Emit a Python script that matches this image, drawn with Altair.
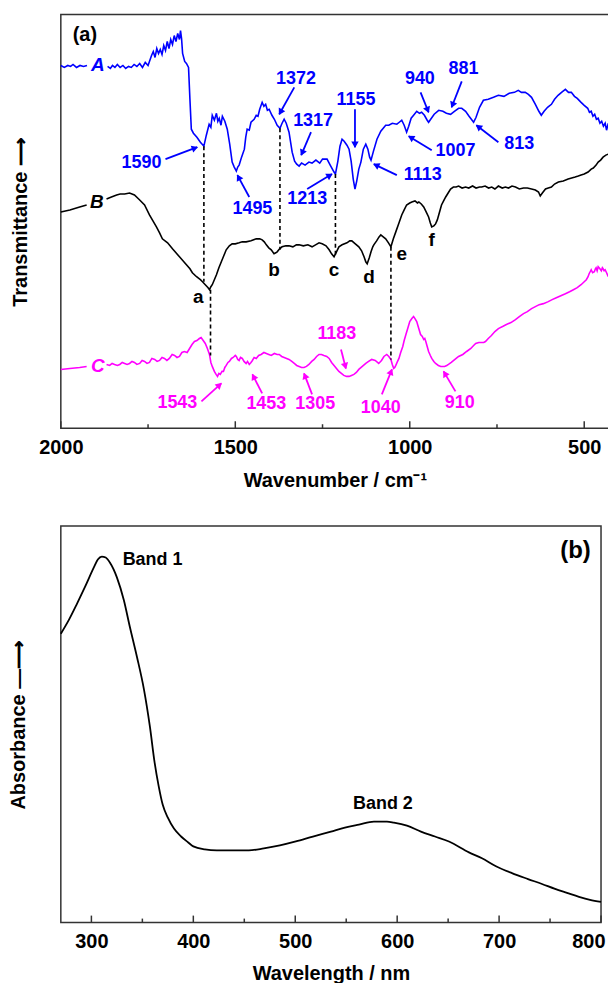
import math
import altair as alt
import pandas as pd

FONT = "Liberation Sans"
BLUE = "#0000ff"
MAG = "#ff00ff"
BLACK = "#000000"

# ---------------- Panel (a): FTIR spectra (transmittance, arbitrary offset units) -------------
A1_wn = [2000, 1990, 1980, 1972, 1965, 1955, 1945, 1935, 1925]
A1_t = [364, 362, 364, 363, 365, 362, 364, 363, 364]
A2_wn = [1866, 1858, 1852, 1845, 1838, 1830, 1822, 1814, 1806, 1798, 1790, 1782, 1774, 1766, 1758, 1750,
         1745, 1740, 1735, 1730, 1725, 1720, 1715, 1710, 1705, 1700, 1695, 1690, 1685, 1680, 1675, 1670,
         1665, 1660, 1657, 1654, 1651, 1645, 1640, 1634, 1630, 1626, 1620, 1610, 1600, 1590, 1583, 1575,
         1570, 1566, 1560, 1554, 1550, 1546, 1541, 1537, 1530, 1523, 1516, 1509, 1503, 1497, 1493, 1489,
         1482, 1474, 1470, 1466, 1460, 1455, 1446, 1440, 1435, 1430, 1423, 1418, 1413, 1408, 1403, 1395,
         1388, 1380, 1372, 1366, 1360, 1354, 1346, 1337, 1330, 1324, 1317, 1310, 1300, 1289, 1280, 1269,
         1258, 1250, 1237, 1228, 1217, 1213, 1206, 1200, 1194, 1188, 1180, 1174, 1168, 1162, 1157, 1152,
         1146, 1140, 1133, 1126, 1120, 1115, 1111, 1104, 1094, 1083, 1069, 1060, 1050, 1037, 1030, 1023,
         1016, 1009, 1003, 996, 989, 980, 972, 966, 958, 950, 946, 940, 930, 917, 905, 895, 883, 872, 860,
         851, 840, 830, 817, 810, 800, 789, 775, 760, 746, 730, 715, 700, 689, 680, 669, 660, 651, 640,
         630, 623, 615, 605, 594, 585, 575, 565, 554, 545, 537, 528, 520, 509, 500, 490, 485, 480, 475,
         470, 465, 460, 455, 450, 445, 440, 436, 431]
A2_t = [363, 361, 364, 362, 365, 362, 364, 361, 363, 362, 365, 363, 366, 362, 367, 364,
        369, 374, 378, 372, 381, 376, 380, 375, 384, 379, 388, 381, 390, 385, 394, 388,
        396, 390, 399, 391, 376, 368, 366, 362, 330, 300, 296, 292, 287, 283, 294, 305,
        302, 314, 309, 316, 308, 311, 304, 313, 308, 300, 285, 267, 262, 258, 262, 264,
        272, 280, 292, 300, 299, 307, 310, 314, 313, 320, 327, 323, 325, 319, 320, 314,
        310, 304, 301, 306, 310, 306, 297, 277, 268, 265, 263, 266, 264, 267, 266, 269,
        266, 270, 270, 264, 257, 255, 268, 283, 290, 288, 284, 280, 268, 250, 240, 248,
        260, 267, 280, 285, 280, 272, 269, 278, 290, 298, 304, 304, 306, 305, 307, 309,
        304, 297, 303, 311, 314, 318, 316, 317, 314, 309, 307, 310, 315, 319, 318, 316, 315, 318, 321,
        321, 318, 313, 307, 312, 322, 329, 330, 332, 334, 333, 336, 337, 339, 337, 337, 335, 332, 325,
        318, 314, 318, 322, 325, 330, 334, 337, 340, 337, 337, 333, 331, 327, 324, 321, 317, 318, 313,
        315, 310, 311, 306, 308, 303, 306, 299, 306]

B1_wn = [2000, 1974, 1946, 1926]
B1_t = [217, 219, 222, 224]
B2_wn = [1869, 1855, 1840, 1830, 1817, 1803, 1789, 1774, 1760, 1746, 1736, 1726, 1717, 1709, 1694, 1680,
         1670, 1660, 1650, 1640, 1630, 1623, 1611, 1600, 1594, 1586, 1578, 1574, 1570, 1566, 1560, 1554,
         1547, 1540, 1533, 1526, 1517, 1509, 1500, 1489, 1480, 1469, 1455, 1440, 1430, 1423, 1417, 1411,
         1404, 1397, 1389, 1384, 1380, 1373, 1366, 1355, 1346, 1335, 1325, 1317, 1305, 1292, 1280, 1270,
         1260, 1251, 1240, 1231, 1224, 1217, 1210, 1203, 1194, 1180, 1172, 1166, 1156, 1146, 1138, 1131,
         1126, 1122, 1116, 1111, 1106, 1103, 1095, 1088, 1083, 1076, 1069, 1061, 1054, 1047, 1040, 1032,
         1023, 1016, 1009, 1000, 994, 985, 978, 974, 967, 960, 953, 946, 941, 937, 931, 926, 921, 917,
         913, 909, 903, 897, 890, 883, 875, 867, 860, 850, 840, 831, 820, 810, 800, 794, 784, 774, 765,
         756, 746, 735, 726, 717, 707, 697, 686, 674, 663, 651, 640, 631, 626, 620, 611, 603, 594, 585,
         574, 560, 546, 536, 526, 517, 509, 500, 489, 480, 474, 466, 460, 453, 446, 438, 431]
B2_t = [230, 232, 234, 235, 235, 236, 234, 229, 224, 214, 208, 202, 196, 190, 186, 180,
        176, 172, 168, 164, 160, 156, 152, 149, 147, 144, 141, 139, 142, 144, 149, 154,
        161, 167, 173, 179, 183, 185, 185, 186, 187, 187, 188, 190, 190, 189, 187, 184,
        181, 179, 175, 176, 177, 180, 182, 183, 183, 182, 184, 184, 183, 184, 182, 184,
        186, 185, 183, 179, 175, 172, 177, 182, 184, 186, 188, 188, 185, 182, 178, 172,
        167, 165, 171, 177, 182, 184, 188, 192, 194, 192, 190, 186, 182, 190, 197, 205,
        214, 219, 224, 226, 227, 228, 226, 227, 225, 222, 217, 212, 206, 202, 203, 205, 209, 214,
        219, 224, 228, 232, 236, 240, 242, 242, 243, 241, 242, 241, 243, 241, 242, 242, 243, 241, 242,
        240, 243, 241, 242, 241, 243, 242, 240, 241, 241, 240, 239, 237, 233, 236, 240, 241, 242, 245,
        247, 248, 250, 251, 252, 253, 254, 255, 257, 260, 261, 264, 267, 269, 272, 274, 275]

C1_wn = [2000, 1974, 1946, 1926]
C1_t = [59, 60, 61, 62]
C2_wn = [1869, 1860, 1853, 1846, 1838, 1831, 1824, 1817, 1810, 1803, 1796, 1789, 1782, 1774, 1767, 1760,
         1753, 1746, 1739, 1731, 1724, 1717, 1710, 1703, 1696, 1689, 1681, 1674, 1667, 1660, 1653, 1646,
         1638, 1631, 1624, 1617, 1610, 1603, 1598, 1594, 1586, 1580, 1574, 1570, 1566, 1560, 1555, 1551,
         1547, 1543, 1538, 1534, 1530, 1526, 1521, 1517, 1511, 1506, 1500, 1497, 1493, 1489, 1485, 1480,
         1475, 1469, 1465, 1460, 1455, 1451, 1446, 1440, 1433, 1426, 1418, 1411, 1404, 1397, 1388, 1380,
         1374, 1367, 1360, 1353, 1346, 1338, 1331, 1324, 1317, 1310, 1303, 1296, 1289, 1281, 1274, 1267,
         1260, 1253, 1246, 1238, 1231, 1224, 1217, 1210, 1203, 1196, 1189, 1181, 1174, 1167, 1160, 1153,
         1146, 1136, 1126, 1118, 1109, 1099, 1089, 1081, 1074, 1066, 1060, 1054, 1050, 1046, 1043, 1040,
         1035, 1031, 1026, 1020, 1016, 1011, 1005, 1000, 994, 989, 985, 980, 975, 969, 964, 960, 957,
         954, 950, 946, 941, 937, 931, 926, 918, 911, 905, 900, 894, 889, 881, 874, 867, 860, 848, 837,
         825, 817, 811, 802, 794, 788, 783, 775, 766, 756, 746, 734, 723, 710, 697, 686, 674, 663, 651,
         640, 629, 617, 603, 592, 580, 567, 554, 542, 531, 520, 509, 500, 494, 489, 486, 483, 480, 476,
         471, 468, 466, 463, 460, 455, 451, 448, 446, 443, 440, 436, 431]
C2_t = [64, 63, 65, 64, 63, 64, 66, 65, 64, 65, 67, 66, 64, 65, 68, 67,
        65, 66, 70, 69, 67, 68, 71, 70, 68, 70, 74, 73, 71, 72, 76, 77,
        76, 80, 84, 87, 88, 90, 91, 89, 85, 80, 74, 66, 62, 57, 54, 52,
        55, 54, 57, 57, 61, 63, 66, 67, 70, 71, 73, 72, 69, 68, 71, 70,
        67, 65, 67, 64, 66, 68, 71, 70, 73, 74, 76, 75, 74, 73, 75, 74,
        74, 72, 71, 70, 69, 67, 65, 63, 62, 61, 61, 62, 64, 67, 69, 72,
        74, 74, 73, 72, 70, 66, 63, 60, 57, 55, 53, 52, 52, 53, 54, 56,
        59, 62, 65, 67, 69, 68, 65, 68, 72, 74, 72, 69, 64, 60, 61, 63,
        67, 70, 76, 82, 88, 94, 101, 107, 110, 112, 110, 107, 101, 94, 92, 89, 90,
        87, 82, 77, 73, 70, 67, 65, 63, 62, 62, 62, 63, 64, 66, 68, 70, 72, 74, 77,
        80, 83, 85, 86, 86, 86, 87, 90, 93, 97, 100, 102, 104, 106, 109, 112, 115, 117, 120,
        122, 124, 125, 127, 129, 131, 133, 135, 137, 139, 141, 144, 147, 149, 152, 155, 157, 159, 156,
        157, 160, 161, 158, 162, 160, 158, 161, 160, 158, 159, 156, 152]

# dashed guide lines between spectra
DASH_wn = [1590, 1372, 1213, 1571, 1054]
DASH_top = [283, 301, 255, 139, 182]
DASH_bot = [147, 179, 172, 73, 69]

# series names
SER_name = ["A", "B", "C"]
SER_wn = [1894, 1897, 1894]
SER_t = [364, 227, 62]

# peak letters on B
PK_text = ["a", "b", "c", "d", "e", "f"]
PK_wn = [1606, 1389, 1217, 1117, 1023, 937]
PK_t = [132, 159, 159, 152, 175, 189]

# blue band labels on A: label position, arrow start, arrow tip
LA_text = ["1590", "1495", "1372", "1317", "1213", "1155", "1113", "1007", "940", "881", "813"]
LA_wn = [1769, 1451, 1326, 1277, 1294, 1154, 963, 869, 971, 846, 686]
LA_t = [266, 220, 350, 308, 230, 329, 254, 278, 350, 360, 285]
LA_wn0 = [1700, 1460, 1331, 1283, 1294, 1157, 1037, 937, 969, 851, 746]
LA_t0 = [270, 232, 342, 297, 240, 320, 254, 279, 337, 348, 287]
LA_wn1 = [1609, 1494, 1374, 1311, 1223, 1157, 1103, 1003, 946, 880, 809]
LA_t1 = [282, 254, 315, 274, 255, 282, 265, 293, 317, 322, 304]

# magenta band labels on C
LC_text = ["1543", "1453", "1305", "1183", "1040", "910"]
LC_wn = [1666, 1411, 1271, 1209, 1083, 857]
LC_t = [25, 24, 24, 95, 20, 25]
LC_wn0 = [1597, 1423, 1280, 1197, 1080, 869]
LC_t0 = [27, 35, 34, 79, 34, 37]
LC_wn1 = [1540, 1451, 1303, 1183, 1051, 903]
LC_t1 = [45, 54, 55, 60, 59, 57]

A_TICKS_MAJOR = [2000, 1500, 1000, 500]
A_TICKS_MINOR = [1750, 1250, 750]

# ---------------- Panel (b): UV-vis spectrum -------------
UV_wl = [270, 277.9, 285.7, 293.6, 302.4, 306.3, 310.2, 314, 318.1, 325, 331.8, 337.7, 344.6, 351.5,
         357.4, 362, 366, 370, 375, 381, 388, 395, 400, 411.3, 423.1, 438.8, 454.5,
         469.2, 484.9, 500.6, 517.3, 535, 548.7, 562.5, 577.2, 590, 596.8, 609.6, 623.3, 637.1, 650.8,
         670.4, 683.2, 696.9, 712.6, 728.4, 742.1, 754.9, 766.6, 778.4, 789.2, 800]
UV_abs = [292, 306, 322, 339, 359, 367, 370, 369, 364, 349, 326, 299, 269, 236,
          198, 162, 138, 119, 106, 95, 87, 81, 77, 74, 73, 73, 73,
          75, 78, 82, 87, 92, 96, 99, 102, 102, 101, 98, 92, 87, 82,
          71, 65, 57, 50, 44, 39, 34, 30, 26, 23, 21]
BAND_text = ["Band 1", "Band 2"]
BAND_wl = [360, 586]
BAND_abs = [367, 120]
B_TICKS_MAJOR = [300, 400, 500, 600, 700, 800]
B_TICKS_MINOR = [350, 450, 550, 650, 750]

# ---------------- geometry ----------------
WA, HA = 550, 415
WB, HB = 542, 398
XA_DOM = [2000, 429]
YA_DOM = [0, 415]
XB_DOM = [270, 800]
YB_DOM = [0, 401]


def segs(name, parts):
    frames = []
    for i, (w, t) in enumerate(parts):
        frames.append(pd.DataFrame({"wn": w, "t": t, "series": name, "seg": f"{name}{i}"}))
    return frames


curves = pd.concat(
    segs("A", [(A1_wn, A1_t), (A2_wn, A2_t)])
    + segs("B", [(B1_wn, B1_t), (B2_wn, B2_t)])
    + segs("C", [(C1_wn, C1_t), (C2_wn, C2_t)]),
    ignore_index=True,
)

pxa = WA / abs(XA_DOM[1] - XA_DOM[0])
pya = HA / (YA_DOM[1] - YA_DOM[0])


def arrows(w0, t0, w1, t1, color):
    rows = []
    for a, b, c, d in zip(w0, t0, w1, t1):
        dx = -(c - a) * pxa          # reversed axis
        dy_up = (d - b) * pya
        ang = math.degrees(math.atan2(dx, dy_up)) % 360
        L = math.hypot(dx, dy_up)
        ux, uy = dx / L, dy_up / L
        hw = c + 3.5 * ux / pxa
        ht = d - 3.5 * uy / pya
        rows.append({"wn": a, "t": b, "wn2": c, "t2": d, "hw": hw, "ht": ht,
                     "ang": ang, "color": color})
    return rows


arr_df = pd.DataFrame(arrows(LA_wn0, LA_t0, LA_wn1, LA_t1, BLUE) + arrows(LC_wn0, LC_t0, LC_wn1, LC_t1, MAG))
lab_df = pd.DataFrame(
    {"wn": LA_wn + LC_wn, "t": LA_t + LC_t, "text": LA_text + LC_text,
     "color": [BLUE] * len(LA_text) + [MAG] * len(LC_text)})
ser_df = pd.DataFrame({"wn": SER_wn, "t": SER_t, "text": SER_name, "color": [BLUE, BLACK, MAG]})
pk_df = pd.DataFrame({"wn": PK_wn, "t": PK_t, "text": PK_text})
dash_df = pd.DataFrame({"wn": DASH_wn, "t": DASH_top, "t2": DASH_bot})
tick_a_major = pd.DataFrame({"wn": A_TICKS_MAJOR})
tick_a_minor = pd.DataFrame({"wn": A_TICKS_MINOR})
panel_a_label = pd.DataFrame({"wn": [1931], "t": [395], "text": ["(a)"]})

xs_a = alt.Scale(domain=XA_DOM, nice=False, zero=False)
ys_a = alt.Scale(domain=YA_DOM, nice=False, zero=False)
ax_xa = alt.Axis(values=A_TICKS_MAJOR, format="d", title="Wavenumber / cm⁻¹", ticks=False, tickSize=0,
                 domain=False, grid=False, labelPadding=9, titlePadding=13, labelFlush=False)
ax_ya = alt.Axis(title="Transmittance ⟶", labels=False, ticks=False, tickSize=0, domain=False,
                 grid=False, titlePadding=30)


def XA(f):
    return alt.X(f, type="quantitative", scale=xs_a, axis=ax_xa)


def YA(f):
    return alt.Y(f, type="quantitative", scale=ys_a, axis=ax_ya)


lines_a = alt.Chart(curves).mark_line(strokeWidth=1.6).encode(
    x=XA("wn"), y=YA("t"),
    color=alt.Color("series:N", scale=alt.Scale(domain=SER_name, range=[BLUE, BLACK, MAG]), legend=None),
    detail="seg:N",
)
dash_a = alt.Chart(dash_df).mark_rule(strokeDash=[4, 3], strokeWidth=1.6, color=BLACK).encode(
    x=XA("wn"), y=YA("t"), y2="t2:Q")
arr_lines = alt.Chart(arr_df).mark_rule(strokeWidth=1.8).encode(
    x=XA("wn"), y=YA("t"), x2="wn2:Q", y2="t2:Q", color=alt.Color("color:N", scale=None))
arr_heads = alt.Chart(arr_df).mark_point(shape="triangle", filled=True, size=55, opacity=1).encode(
    x=XA("hw"), y=YA("ht"), angle=alt.Angle("ang:Q", scale=None), color=alt.Color("color:N", scale=None))
labels_a = alt.Chart(lab_df).mark_text(font=FONT, fontWeight="bold", fontSize=18).encode(
    x=XA("wn"), y=YA("t"), text="text:N", color=alt.Color("color:N", scale=None))
ser_a = alt.Chart(ser_df).mark_text(font=FONT, fontWeight="bold", fontStyle="italic", fontSize=19).encode(
    x=XA("wn"), y=YA("t"), text="text:N", color=alt.Color("color:N", scale=None))
pk_a = alt.Chart(pk_df).mark_text(font=FONT, fontWeight="bold", fontSize=19, color=BLACK).encode(
    x=XA("wn"), y=YA("t"), text="text:N")
ticks_a_major = alt.Chart(tick_a_major).mark_rule(strokeWidth=1.5, color="#333").encode(
    x=XA("wn"), y=alt.value(HA), y2=alt.value(HA - 7))
ticks_a_minor = alt.Chart(tick_a_minor).mark_rule(strokeWidth=1.5, color="#333").encode(
    x=XA("wn"), y=alt.value(HA), y2=alt.value(HA - 4))
tag_a = alt.Chart(panel_a_label).mark_text(font=FONT, fontWeight="bold", fontSize=20, color=BLACK).encode(
    x=XA("wn"), y=YA("t"), text="text:N")

panel_a = alt.layer(lines_a, dash_a, arr_lines, arr_heads, labels_a, ser_a, pk_a,
                    ticks_a_major, ticks_a_minor, tag_a).properties(width=WA, height=HA)

# ---------------- panel (b) ----------------
xs_b = alt.Scale(domain=XB_DOM, nice=False, zero=False)
ys_b = alt.Scale(domain=YB_DOM, nice=False, zero=False)
ax_xb = alt.Axis(values=B_TICKS_MAJOR, format="d", title="Wavelength / nm", ticks=False, tickSize=0,
                 domain=False, grid=False, labelPadding=9, titlePadding=12,
                 labelFlush=True, labelFlushOffset=4)
ax_yb = alt.Axis(title="Absorbance —⟶", labels=False, ticks=False, tickSize=0, domain=False,
                 grid=False, titlePadding=32)


def XB(f):
    return alt.X(f, type="quantitative", scale=xs_b, axis=ax_xb)


def YB(f):
    return alt.Y(f, type="quantitative", scale=ys_b, axis=ax_yb)


uv_df = pd.DataFrame({"wl": UV_wl, "a": UV_abs})
band_df = pd.DataFrame({"wl": BAND_wl, "a": BAND_abs, "text": BAND_text})
tb_major = pd.DataFrame({"wl": B_TICKS_MAJOR})
tb_minor = pd.DataFrame({"wl": B_TICKS_MINOR})
panel_b_label = pd.DataFrame({"wl": [775], "a": [376], "text": ["(b)"]})

uv_line = alt.Chart(uv_df).mark_line(strokeWidth=1.8, color=BLACK, interpolate="monotone").encode(
    x=XB("wl"), y=YB("a"))
band_txt = alt.Chart(band_df).mark_text(font=FONT, fontWeight="bold", fontSize=18, color=BLACK).encode(
    x=XB("wl"), y=YB("a"), text="text:N")
tb1 = alt.Chart(tb_major).mark_rule(strokeWidth=1.5, color="#333").encode(
    x=XB("wl"), y=alt.value(HB), y2=alt.value(HB - 7))
tb2 = alt.Chart(tb_minor).mark_rule(strokeWidth=1.5, color="#333").encode(
    x=XB("wl"), y=alt.value(HB), y2=alt.value(HB - 4))
tag_b = alt.Chart(panel_b_label).mark_text(font=FONT, fontWeight="bold", fontSize=24, color=BLACK).encode(
    x=XB("wl"), y=YB("a"), text="text:N")

panel_b = alt.layer(uv_line, band_txt, tb1, tb2, tag_b).properties(width=WB, height=HB)

chart = alt.vconcat(panel_a, panel_b, spacing=34).properties(
    padding={"left": 0, "top": 4, "right": -5, "bottom": -3}
).configure_view(
    stroke="#333", strokeWidth=1.5
).configure_axis(
    labelFont=FONT, labelFontSize=20, labelFontWeight="bold", labelColor=BLACK,
    titleFont=FONT, titleFontSize=20, titleFontWeight="bold", titleColor=BLACK,
)

chart.save("out.html", embed_options={"renderer": "svg", "actions": False})
